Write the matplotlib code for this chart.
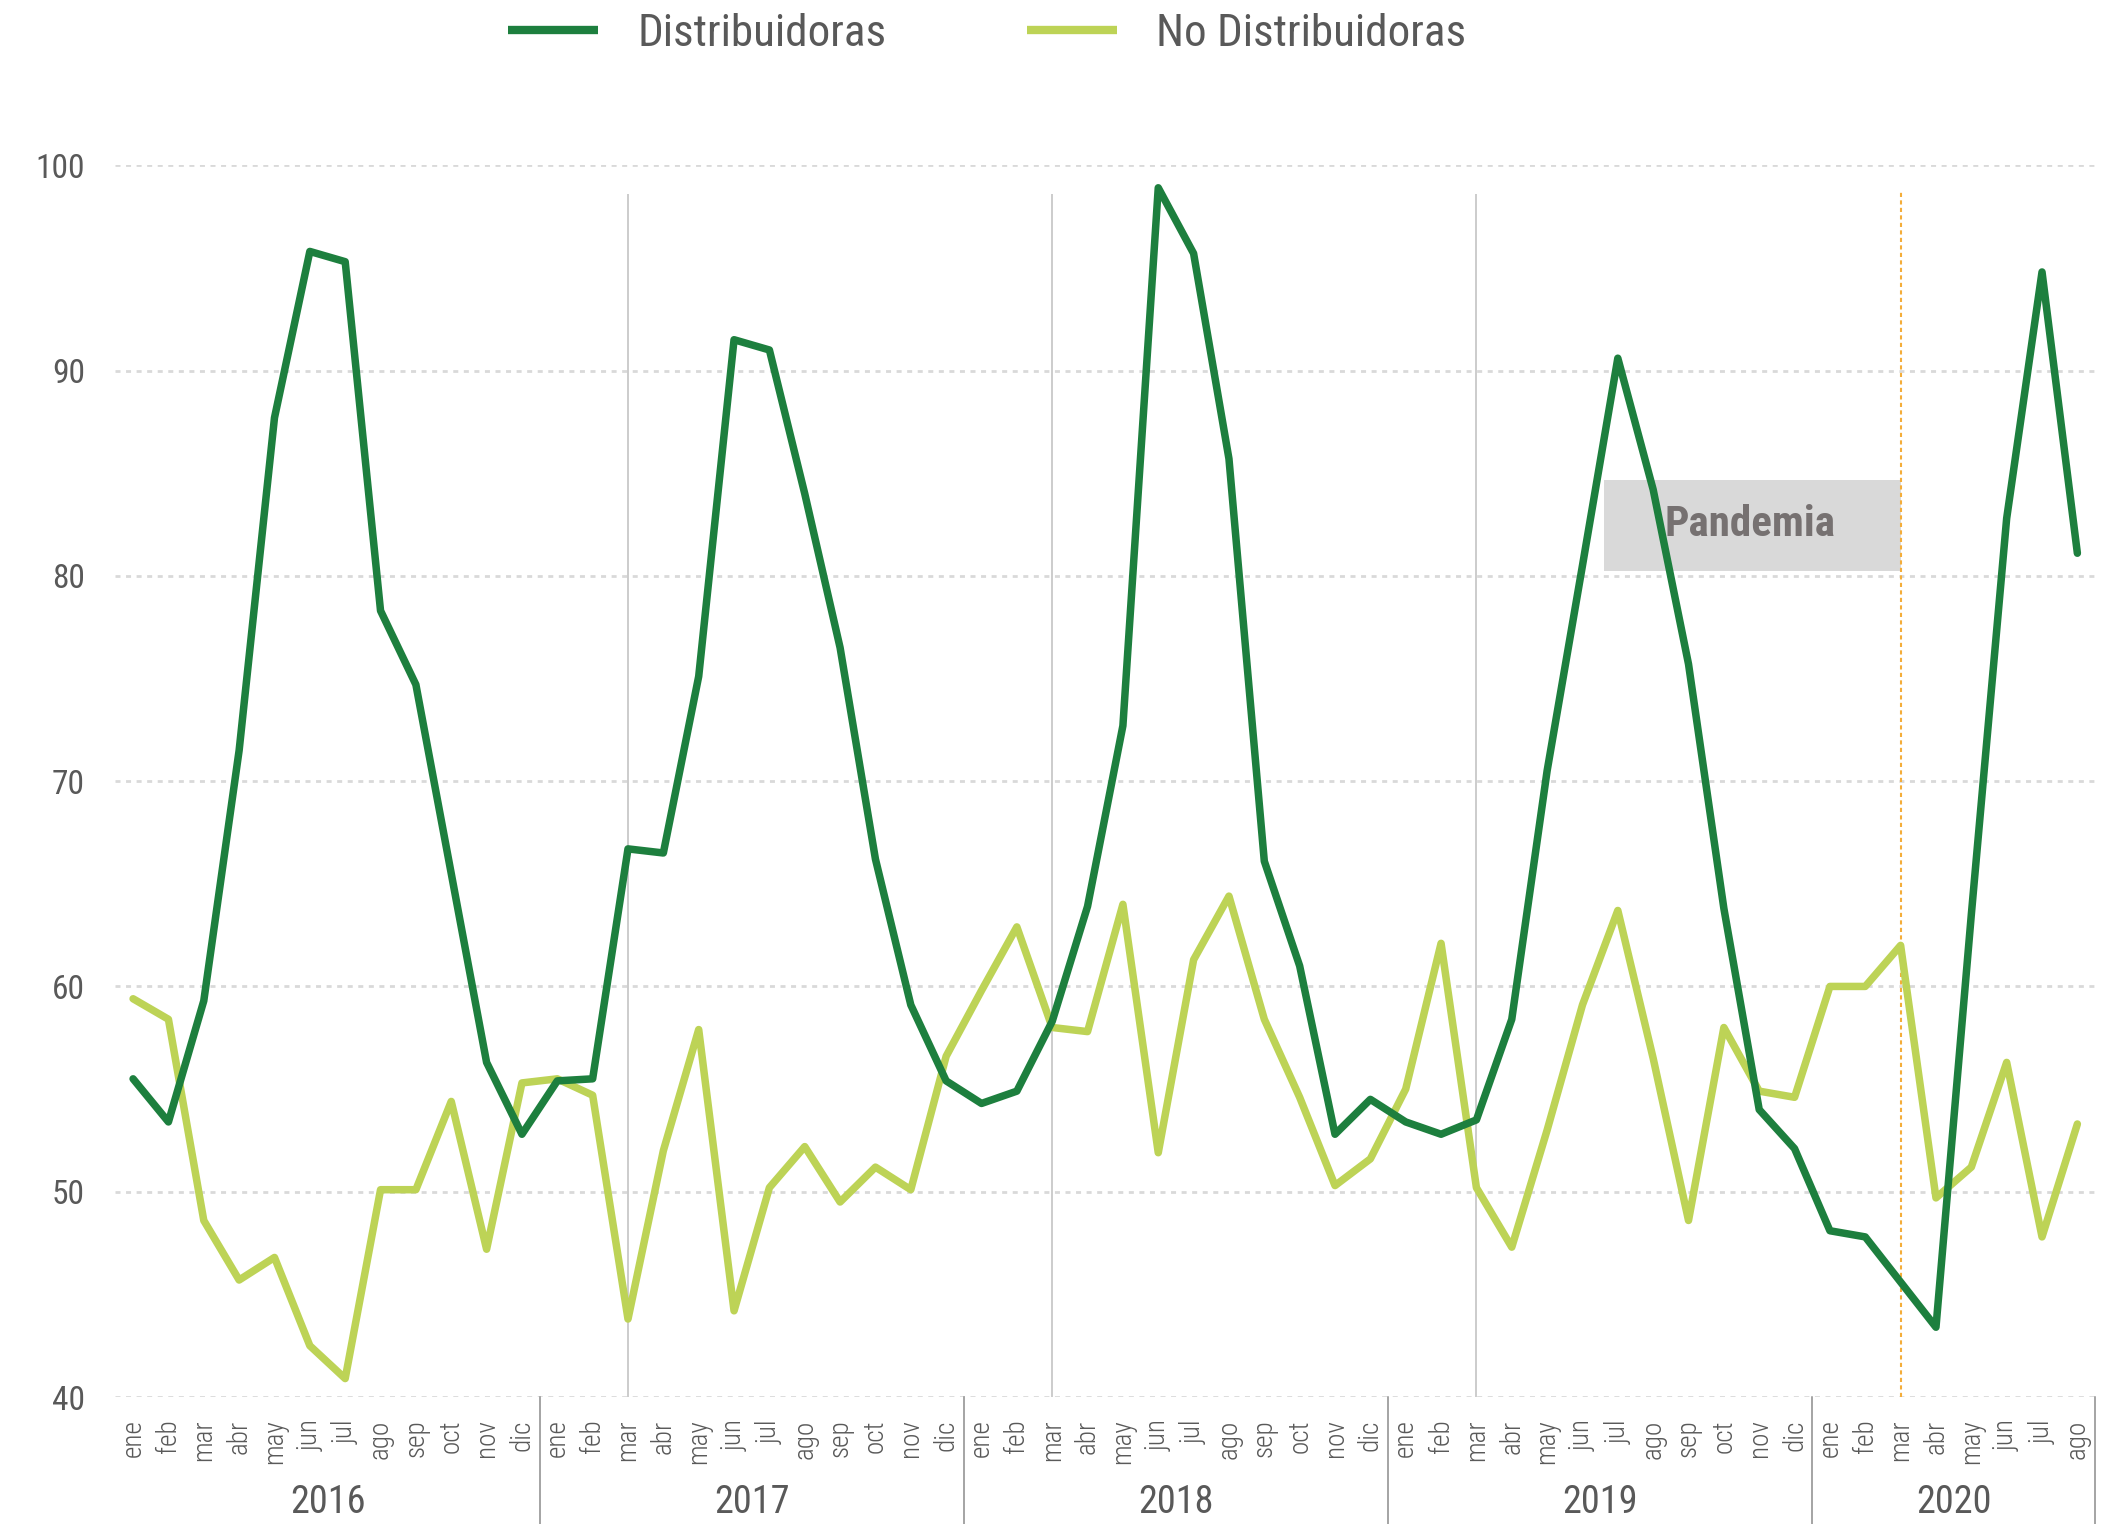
import matplotlib
matplotlib.use('Agg')
import matplotlib.pyplot as plt
from matplotlib import font_manager
from matplotlib.patches import Rectangle

# Datos
meses = ['ene', 'feb', 'mar', 'abr', 'may', 'jun', 'jul', 'ago', 'sep', 'oct', 'nov', 'dic']
anios = ['2016', '2017', '2018', '2019', '2020']
meses_por_anio = [12, 12, 12, 12, 8]
etiquetas = meses * 4 + meses[:8]

distribuidoras = [
    55.5, 53.4, 59.3, 71.5, 87.7, 95.8, 95.3, 78.3, 74.7, 65.5, 56.3, 52.8,
    55.4, 55.5, 66.7, 66.5, 75.1, 91.5, 91.0, 84.0, 76.5, 66.2, 59.1, 55.4,
    54.3, 54.9, 58.3, 63.9, 72.7, 98.9, 95.7, 85.7, 66.1, 61.0, 52.8, 54.5,
    53.4, 52.8, 53.5, 58.4, 70.5, 80.5, 90.6, 84.2, 75.7, 63.8, 54.0, 52.1,
    48.1, 47.8, 45.6, 43.4, 63.5, 82.8, 94.8, 81.1]
no_distribuidoras = [
    59.4, 58.4, 48.6, 45.7, 46.8, 42.5, 40.9, 50.1, 50.1, 54.4, 47.2, 55.3,
    55.5, 54.7, 43.8, 52.0, 57.9, 44.2, 50.2, 52.2, 49.5, 51.2, 50.1, 56.6,
    59.8, 62.9, 58.0, 57.8, 64.0, 51.9, 61.3, 64.4, 58.4, 54.6, 50.3, 51.6,
    55.0, 62.1, 50.2, 47.3, 53.0, 59.1, 63.7, 56.5, 48.6, 58.0, 54.9, 54.6,
    60.0, 60.0, 62.0, 49.7, 51.2, 56.3, 47.8, 53.3]

# Marzo de cada año (líneas verticales) y el inicio de la pandemia
marzos = [14, 26, 38]
inicio_pandemia = 50

# Fuente condensada si existe
nombres = {f.name for f in font_manager.fontManager.ttflist}
if 'Roboto Condensed' in nombres:
    fuente = 'Roboto Condensed'
elif 'Liberation Sans Narrow' in nombres:
    fuente = 'Liberation Sans Narrow'
else:
    fuente = 'Roboto'
plt.rcParams['font.family'] = [fuente, 'DejaVu Sans']

gris_texto = '#595959'
verde_oscuro = '#1d7f3e'
verde_claro = '#bdd356'

fig = plt.figure(figsize=(21.06, 15.24), dpi=100)
ax = fig.add_axes([0.0548, 0.0833, 0.94, 0.8083])

x = list(range(len(etiquetas)))

# Caja de "Pandemia"
ax.add_patch(Rectangle((41.6, 80.23), inicio_pandemia - 41.6, 84.67 - 80.23,
                       facecolor='#d9d9d9', edgecolor='none', zorder=1))

ax.vlines(marzos, 40, 98.6, colors='#bfbfbf', linewidth=1.1, zorder=1)
ax.vlines(inicio_pandemia, 40, 98.7, colors='#f4ad3a', linewidth=1.5,
          linestyles=(0, (2.0, 1.6)), zorder=1)

l1, = ax.plot(x, distribuidoras, color=verde_oscuro, lw=5.4, solid_capstyle='round',
              solid_joinstyle='round', zorder=3, label='Distribuidoras')
l2, = ax.plot(x, no_distribuidoras, color=verde_claro, lw=5.4, solid_capstyle='round',
              solid_joinstyle='round', zorder=2, label='No Distribuidoras')

ax.text(45.75, 82.5, 'Pandemia', ha='center', va='center', fontsize=31,
        fontweight='bold', color='#767171', zorder=4)

ax.set_xlim(-0.5, len(etiquetas) - 0.5)
ax.set_ylim(40, 100)
ax.set_yticks(range(40, 101, 10))
ax.yaxis.grid(True, color='#d9d9d9', linestyle=(0, (1.8, 2.0)), linewidth=2)
ax.set_axisbelow(True)
for s in ax.spines.values():
    s.set_visible(False)

ax.tick_params(axis='y', length=0, pad=22, labelsize=24, labelcolor=gris_texto)
ax.set_xticks(x)
ax.set_xticklabels(etiquetas, rotation=90, va='top', ha='center',
                   fontsize=19.5, color=gris_texto, fontweight='light')
ax.tick_params(axis='x', length=0, pad=16)

# Separadores de años y etiquetas de año
trans = ax.get_xaxis_transform()
inicio = 0
for anio, n in zip(anios, meses_por_anio):
    fin = inicio + n
    ax.plot([fin - 0.5, fin - 0.5], [0, -0.105], transform=trans, color='#8c8c8c',
            lw=1.1, clip_on=False)
    ax.text(inicio + (n - 1) / 2, -0.086, anio, transform=trans, ha='center',
            va='center', fontsize=27.5, color=gris_texto)
    inicio = fin

leg = fig.legend(handles=[l1, l2], loc='center', bbox_to_anchor=(0.4687, 0.9777), ncol=2,
                 frameon=False, fontsize=32.5, handlelength=2.0, handletextpad=0.87,
                 columnspacing=3.1, labelcolor=gris_texto)
for h in leg.legend_handles:
    h.set_linewidth(6)
    h.set_solid_capstyle('butt')

plt.savefig('out.png', dpi=100)
